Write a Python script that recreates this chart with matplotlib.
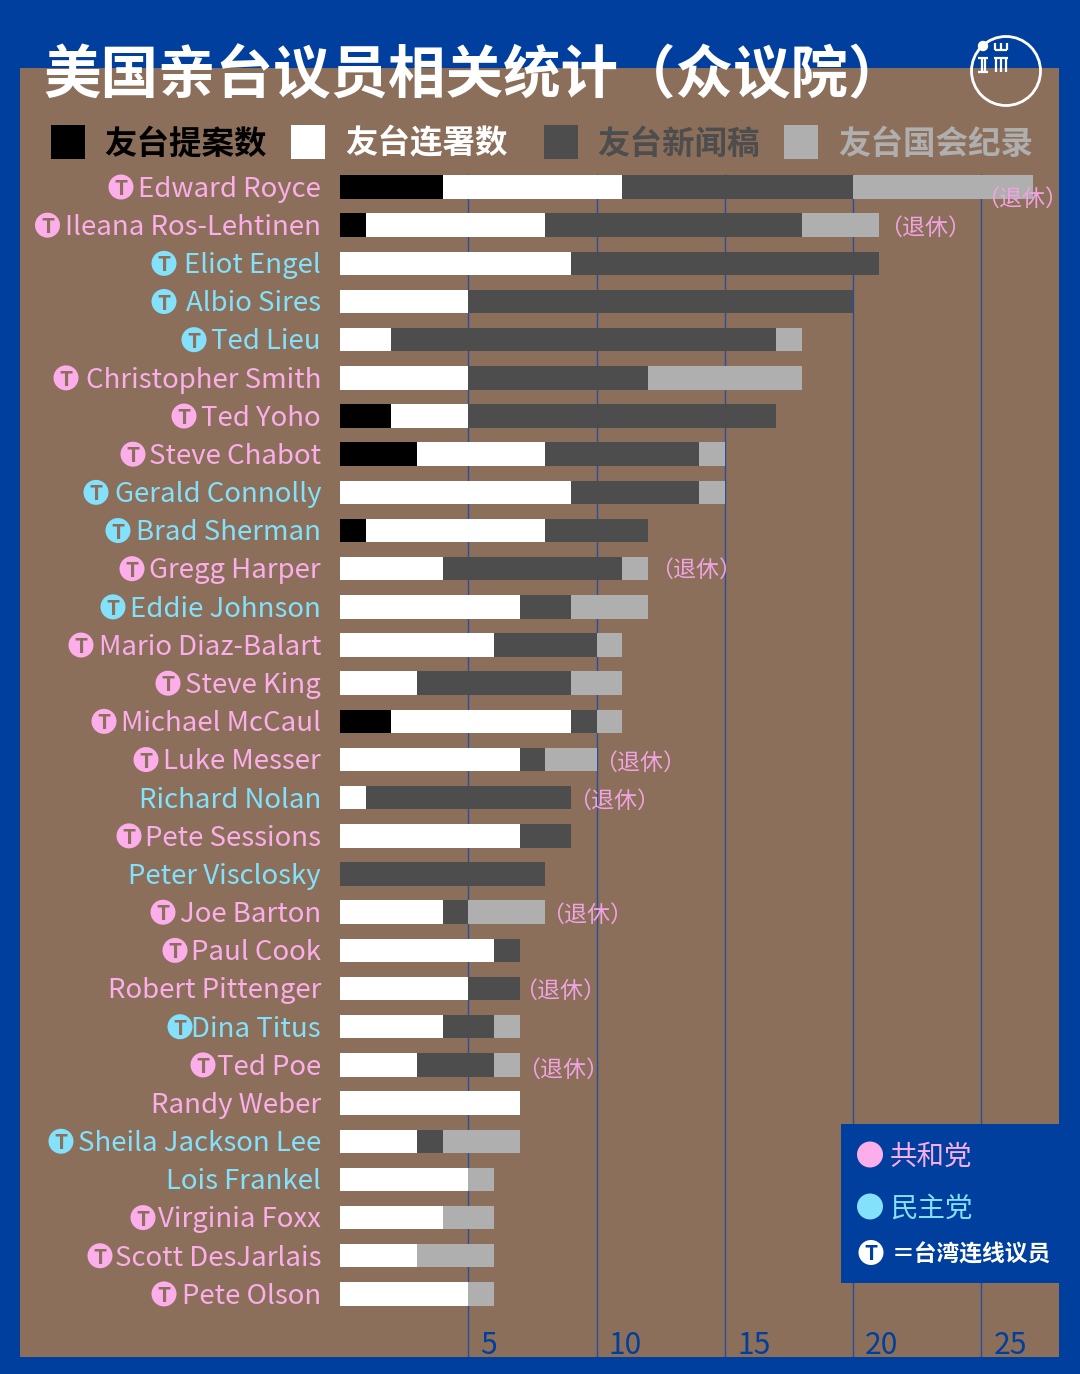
import matplotlib
matplotlib.use('Agg')
import matplotlib.pyplot as plt
from matplotlib.patches import Circle, Rectangle
import numpy as np

plt.rcParams['font.family'] = ['Noto Sans CJK SC', 'DejaVu Sans']

# data
names = ['Edward Royce', 'Ileana Ros-Lehtinen', 'Eliot Engel', 'Albio Sires', 'Ted Lieu',
         'Christopher Smith', 'Ted Yoho', 'Steve Chabot', 'Gerald Connolly', 'Brad Sherman',
         'Gregg Harper', 'Eddie Johnson', 'Mario Diaz-Balart', 'Steve King', 'Michael McCaul',
         'Luke Messer', 'Richard Nolan', 'Pete Sessions', 'Peter Visclosky', 'Joe Barton',
         'Paul Cook', 'Robert Pittenger', 'Dina Titus', 'Ted Poe', 'Randy Weber',
         'Sheila Jackson Lee', 'Lois Frankel', 'Virginia Foxx', 'Scott DesJarlais', 'Pete Olson']
parties = ['R', 'R', 'D', 'D', 'D', 'R', 'R', 'R', 'D', 'D',
           'R', 'D', 'R', 'R', 'R', 'R', 'D', 'R', 'D', 'R',
           'R', 'R', 'D', 'R', 'R', 'D', 'D', 'R', 'R', 'R']
bills = [4, 1, 0, 0, 0, 0, 2, 3, 0, 1, 0, 0, 0, 0, 2, 0, 0, 0, 0, 0, 0, 0, 0, 0, 0, 0, 0, 0, 0, 0]
cosigned = [7, 7, 9, 5, 2, 5, 3, 5, 9, 7, 4, 7, 6, 3, 7, 7, 1, 7, 0, 4, 6, 5, 4, 3, 7, 3, 5, 4, 3, 5]
press = [9, 10, 12, 15, 15, 7, 12, 6, 5, 4, 7, 2, 4, 6, 1, 1, 8, 2, 8, 1, 1, 2, 2, 3, 0, 1, 0, 0, 0, 0]
record = [7, 3, 0, 0, 1, 6, 0, 1, 1, 0, 1, 3, 1, 2, 1, 2, 0, 0, 0, 3, 0, 0, 1, 1, 0, 3, 1, 2, 3, 1]
grid_ticks = [5, 10, 15, 20, 25]
series_labels = ['友台提案数', '友台连署数', '友台新闻稿', '友台国会纪录']

# pixel x of the T badge per row, None = no badge
badge_x = [121, 47.5, 164, 164, 194, 66, 184, 133, 96, 118, 132, 113, 81, 168, 104, 146, None,
           129, None, 163, 175, None, 180, 203, None, 61, None, 143, 100, 164]
# pixel position of the (退休) notes
retired = {0: (1022, 199), 1: (925, 228), 10: (696, 570), 15: (640, 763), 16: (614, 801),
           19: (587, 915), 21: (560, 991), 23: (563, 1070)}

BLUE = '#003f9e'
BROWN = '#8c6f5a'
DARK = '#4d4d4d'
LIGHT = '#afafaf'
PINK = '#fbaeea'
CYAN = '#84e1fb'
colors = {'R': PINK, 'D': CYAN}
series_colors = ['black', 'white', DARK, LIGHT]


def px(size):
    # font size given in pixels
    return size * 0.72


fig = plt.figure(figsize=(10.8, 13.74), dpi=100, facecolor=BLUE)

# panel axes, limits chosen so bars land on the picture's grid
x0, unit = 340, 25.66
y0, step = 187, 38.17
ax = fig.add_axes([20 / 1080, 1 - 1357 / 1374, 1039 / 1080, 1289 / 1374], facecolor=BROWN)
ax.set_xlim((20 - x0) / unit, (1059 - x0) / unit)
ax.set_ylim((1357 - y0) / step, (68 - y0) / step)
ax.axis('off')
ax.add_patch(Rectangle((0, 0), 1, 1, transform=ax.transAxes, color=BROWN, zorder=0))

ax.vlines(grid_ticks, -0.33, (1357 - y0) / step, color='#24509c', lw=1, zorder=1)
for t in grid_ticks:
    ax.annotate(str(t), (t, (1345 - y0) / step), xytext=(12, 0), textcoords='offset pixels',
                color=BLUE, fontsize=px(30), ha='left', va='center', zorder=2)

rows = np.arange(len(names))
left = np.zeros(len(names))
for values, color in zip([bills, cosigned, press, record], series_colors):
    ax.barh(rows, values, left=left, height=0.615, color=color, linewidth=0, zorder=3)
    left += np.array(values)

for i, name in enumerate(names):
    ax.text(-0.74, i + 0.06, name, ha='right', va='center', color=colors[parties[i]],
            fontsize=px(27.6), zorder=4)

# overlay in picture pixels for title, legends and badges
top = fig.add_axes([0, 0, 1, 1], facecolor='none')
top.set_xlim(0, 1080)
top.set_ylim(1374, 0)
top.axis('off')

top.text(43, 76, '美国亲台议员相关统计（众议院）', color='white', fontsize=px(57.5),
         fontweight='bold', ha='left', va='center')

# logo
top.add_patch(Circle((1006, 71), 34.5, fill=False, ec='white', lw=2))
top.add_patch(Circle((983, 46), 4.5, color='white'))
for (xa, ya, xb, yb) in [(978, 58, 988, 58), (978, 72, 988, 72), (981.5, 58, 981.5, 72), (985, 58, 985, 72),
                         (995, 50, 1007, 50), (995, 43, 995, 50), (1001, 43, 1001, 50), (1007, 43, 1007, 50),
                         (994, 58, 1008, 58), (996, 58, 996, 72), (1001, 58, 1001, 72), (1006, 58, 1006, 72)]:
    top.plot([xa, xb], [ya, yb], color='white', lw=1.6, solid_capstyle='butt')

# series legend
for label, color, sx, tx in zip(series_labels, series_colors, [51, 291, 544, 784], [104, 345, 597, 838]):
    top.add_patch(Rectangle((sx, 125), 34, 34, color=color, lw=0))
    top.text(tx, 144, label, color=color, fontsize=px(32.5), fontweight='bold', ha='left', va='center')


def badge(x, y, bg, fg, r=12.5):
    top.add_patch(Circle((x, y), r, color=bg, lw=0))
    top.text(x, y + 1.5, 'T', color=fg, fontsize=px(21), fontweight='bold', ha='center', va='center')


for i, bx in enumerate(badge_x):
    if bx is not None:
        badge(bx, y0 + step * i, colors[parties[i]], BROWN)

for (rx, ry) in retired.values():
    top.text(rx, ry, '（退休）', color='#efa3e0', fontsize=px(23), ha='center', va='center')

# party legend
top.add_patch(Rectangle((841, 1124), 218, 159, color=BLUE, lw=0))
top.add_patch(Circle((870, 1154.5), 13, color=PINK, lw=0))
top.add_patch(Circle((870, 1206.5), 13, color=CYAN, lw=0))
top.text(890, 1157, '共和党', color=PINK, fontsize=px(27.5), ha='left', va='center')
top.text(890, 1209, '民主党', color=CYAN, fontsize=px(27.5), ha='left', va='center')
badge(871, 1252.5, 'white', BLUE)
top.text(892, 1255, '＝台湾连线议员', color='white', fontsize=px(22.8), fontweight='bold', ha='left', va='center')

fig.savefig('out.png', dpi=100, facecolor=BLUE)
